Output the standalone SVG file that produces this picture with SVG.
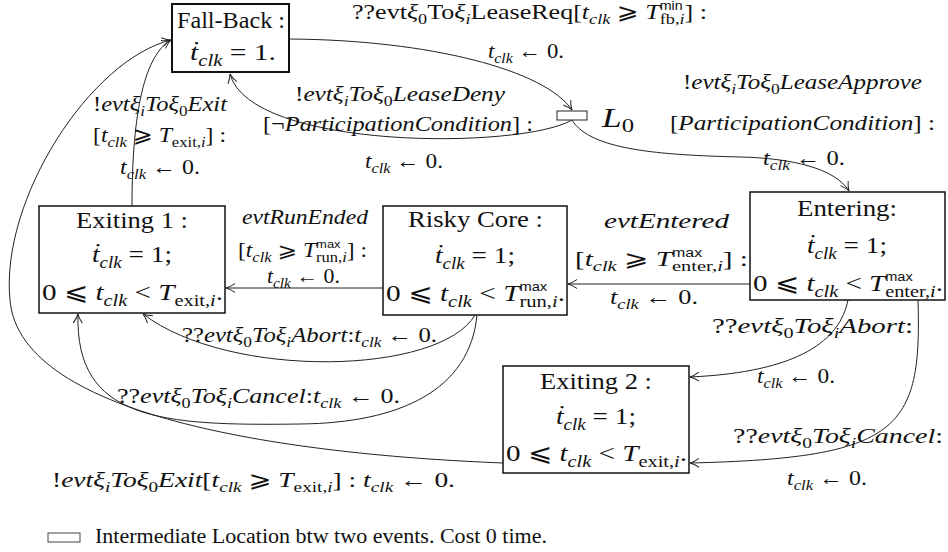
<svg xmlns="http://www.w3.org/2000/svg" width="948" height="552" viewBox="0 0 948 552">
<defs>
<style>
text{font-family:"Liberation Serif","DejaVu Serif","DejaVu Sans",serif;fill:#111}
.n{font-size:24px}
.l{font-size:22px}
.r{font-size:20px}
.i{font-style:italic}
.s{font-size:70%}
.ss{font-family:"Liberation Sans","DejaVu Sans",sans-serif;font-size:12px;font-style:normal}
.box{fill:#fff;stroke:#111;stroke-width:1.5}
.edge{fill:none;stroke:#222;stroke-width:1}
.lg{font-size:20px}
</style>
<marker id="arr" markerUnits="userSpaceOnUse" markerWidth="14" markerHeight="14" refX="11" refY="7" orient="auto"><path d="M2,2.5 Q7,6 11,7 Q7,8 2,11.5" fill="none" stroke="#222" stroke-width="1"/></marker>
</defs>

<g id="connectors">
  <!-- Fall-Back to L0 (lease request) -->
  <path class="edge" d="M289,39 C430,40 545,70 572,110" marker-end="url(#arr)"/>
  <!-- L0 back to Fall-Back (lease deny) -->
  <path class="edge" d="M572,120 C520,150 250,150 230,74" marker-end="url(#arr)"/>
  <!-- L0 to Entering (lease approve) -->
  <path class="edge" d="M572,120 C590,150 660,155 740,157 C790,158 835,168 849,191" marker-end="url(#arr)"/>
  <!-- Entering to Risky Core -->
  <path class="edge" d="M750,284 L568,284" marker-end="url(#arr)"/>
  <!-- Risky Core to Exiting 1 -->
  <path class="edge" d="M383,288 L226,288" marker-end="url(#arr)"/>
  <!-- Exiting 1 to Fall-Back -->
  <path class="edge" d="M132,206 C132,110 145,55 171,40" marker-end="url(#arr)"/>
  <!-- Exiting 2 to Fall-Back -->
  <path class="edge" d="M503,463 C300,455 20,420 10,300 C0,200 90,60 171,40" marker-end="url(#arr)"/>
  <!-- Risky Core to Exiting 1 (abort) -->
  <path class="edge" d="M475,315 C440,375 230,380 143,314" marker-end="url(#arr)"/>
  <!-- Risky Core to Exiting 1 (cancel) -->
  <path class="edge" d="M477,315 C470,390 400,423 300,424 C160,426 75,420 78,314" marker-end="url(#arr)"/>
  <!-- Entering to Exiting 2 (abort) -->
  <path class="edge" d="M848,300 C840,340 800,372 690,377" marker-end="url(#arr)"/>
  <!-- Entering to Exiting 2 (cancel) -->
  <path class="edge" d="M918,300 C922,430 900,458 690,463" marker-end="url(#arr)"/>
</g>

<g id="fall-back">
  <rect class="box" x="172" y="4" width="117" height="68" style="stroke-width:2"/>
  <text class="n" x="177" y="28" textLength="108" lengthAdjust="spacingAndGlyphs">Fall-Back :</text>
  <text class="n" x="190" y="60" textLength="86" lengthAdjust="spacingAndGlyphs"><tspan class="i">ṫ</tspan><tspan class="i s" dy="6">clk</tspan><tspan dy="-6"> = 1.</tspan></text>
</g>

<g id="l0">
  <rect x="557" y="111" width="30" height="9" fill="#fff" stroke="#222" stroke-width="1"/>
  <text x="602" y="127" style="font-size:28px" textLength="32" lengthAdjust="spacingAndGlyphs"><tspan class="i">L</tspan><tspan class="s" dy="5">0</tspan></text>
</g>

<g id="exiting-1">
  <rect class="box" x="39" y="206" width="186" height="107"/>
  <text class="n" x="76" y="228" textLength="112" lengthAdjust="spacingAndGlyphs">Exiting 1 :</text>
  <text class="n" x="92" y="262" textLength="80" lengthAdjust="spacingAndGlyphs"><tspan class="i">ṫ</tspan><tspan class="i s" dy="6">clk</tspan><tspan dy="-6"> = 1;</tspan></text>
  <text class="n" x="42" y="300" textLength="181" lengthAdjust="spacingAndGlyphs">0 ⩽ <tspan class="i">t</tspan><tspan class="i s" dy="6">clk</tspan><tspan dy="-6"> &lt; </tspan><tspan class="i">T</tspan><tspan class="s" dy="6">exit,<tspan class="i">i</tspan></tspan><tspan dy="-6">.</tspan></text>
</g>

<g id="risky-core">
  <rect class="box" x="383" y="206" width="184" height="109"/>
  <text class="n" x="408" y="227" textLength="135" lengthAdjust="spacingAndGlyphs">Risky Core :</text>
  <text class="n" x="435" y="263" textLength="80" lengthAdjust="spacingAndGlyphs"><tspan class="i">ṫ</tspan><tspan class="i s" dy="6">clk</tspan><tspan dy="-6"> = 1;</tspan></text>
  <text class="n" x="386" y="301" textLength="179" lengthAdjust="spacingAndGlyphs">0 ⩽ <tspan class="i">t</tspan><tspan class="i s" dy="6">clk</tspan><tspan dy="-6"> &lt; </tspan><tspan class="i">T</tspan><tspan class="ss" dy="-10">max</tspan><tspan class="s" dx="-22.7" dy="16">run,<tspan class="i">i</tspan></tspan><tspan dy="-6">.</tspan></text>
</g>

<g id="entering">
  <rect class="box" x="750" y="192" width="195" height="108"/>
  <text class="n" x="797" y="216" textLength="100" lengthAdjust="spacingAndGlyphs">Entering:</text>
  <text class="n" x="807" y="253" textLength="80" lengthAdjust="spacingAndGlyphs"><tspan class="i">ṫ</tspan><tspan class="i s" dy="6">clk</tspan><tspan dy="-6"> = 1;</tspan></text>
  <text class="n" x="753" y="291" textLength="190" lengthAdjust="spacingAndGlyphs">0 ⩽ <tspan class="i">t</tspan><tspan class="i s" dy="6">clk</tspan><tspan dy="-6"> &lt; </tspan><tspan class="i">T</tspan><tspan class="ss" dy="-10">max</tspan><tspan class="s" dx="-22.7" dy="16">enter,<tspan class="i">i</tspan></tspan><tspan dy="-6">.</tspan></text>
</g>

<g id="exiting-2">
  <rect class="box" x="503" y="366" width="186" height="107"/>
  <text class="n" x="540" y="389" textLength="112" lengthAdjust="spacingAndGlyphs">Exiting 2 :</text>
  <text class="n" x="556" y="424" textLength="80" lengthAdjust="spacingAndGlyphs"><tspan class="i">ṫ</tspan><tspan class="i s" dy="6">clk</tspan><tspan dy="-6"> = 1;</tspan></text>
  <text class="n" x="506" y="461" textLength="181" lengthAdjust="spacingAndGlyphs">0 ⩽ <tspan class="i">t</tspan><tspan class="i s" dy="6">clk</tspan><tspan dy="-6"> &lt; </tspan><tspan class="i">T</tspan><tspan class="s" dy="6">exit,<tspan class="i">i</tspan></tspan><tspan dy="-6">.</tspan></text>
</g>

<g id="labels">
  <!-- lease request -->
  <text class="l" x="352" y="19" textLength="355" lengthAdjust="spacingAndGlyphs">??evt<tspan class="i">ξ</tspan><tspan class="s" dy="5">0</tspan><tspan dy="-5">To</tspan><tspan class="i">ξ</tspan><tspan class="i s" dy="5">i</tspan><tspan dy="-5">LeaseReq[</tspan><tspan class="i">t</tspan><tspan class="i s" dy="5">clk</tspan><tspan dy="-5"> ⩾ </tspan><tspan class="i">T</tspan><tspan class="ss" dy="-9">min</tspan><tspan class="s" dx="-19.3" dy="14">fb,<tspan class="i">i</tspan></tspan><tspan dy="-5">] :</tspan></text>
  <text class="l" x="488" y="58" textLength="76" lengthAdjust="spacingAndGlyphs"><tspan class="i">t</tspan><tspan class="i s" dy="5">clk</tspan><tspan dy="-5"> ← 0.</tspan></text>

  <!-- lease deny -->
  <text class="l" x="295" y="101" textLength="210" lengthAdjust="spacingAndGlyphs">!<tspan class="i">evtξ</tspan><tspan class="i s" dy="5">i</tspan><tspan class="i" dy="-5">Toξ</tspan><tspan class="s" dy="5">0</tspan><tspan class="i" dy="-5">LeaseDeny</tspan></text>
  <text class="l" x="263" y="131" textLength="270" lengthAdjust="spacingAndGlyphs">[¬<tspan class="i">ParticipationCondition</tspan>] :</text>
  <text class="l" x="365" y="168" textLength="78" lengthAdjust="spacingAndGlyphs"><tspan class="i">t</tspan><tspan class="i s" dy="5">clk</tspan><tspan dy="-5"> ← 0.</tspan></text>

  <!-- exit from Exiting 1 -->
  <text class="l" x="93" y="111" textLength="134" lengthAdjust="spacingAndGlyphs">!<tspan class="i">evtξ</tspan><tspan class="i s" dy="5">i</tspan><tspan class="i" dy="-5">Toξ</tspan><tspan class="s" dy="5">0</tspan><tspan class="i" dy="-5">Exit</tspan></text>
  <text class="l" x="93" y="142" textLength="133" lengthAdjust="spacingAndGlyphs">[<tspan class="i">t</tspan><tspan class="i s" dy="5">clk</tspan><tspan dy="-5"> ⩾ </tspan><tspan class="i">T</tspan><tspan class="s" dy="5">exit,<tspan class="i">i</tspan></tspan><tspan dy="-5">] :</tspan></text>
  <text class="l" x="120" y="174" textLength="80" lengthAdjust="spacingAndGlyphs"><tspan class="i">t</tspan><tspan class="i s" dy="5">clk</tspan><tspan dy="-5"> ← 0.</tspan></text>

  <!-- lease approve -->
  <text class="l" x="683" y="89" textLength="239" lengthAdjust="spacingAndGlyphs">!<tspan class="i">evtξ</tspan><tspan class="i s" dy="5">i</tspan><tspan class="i" dy="-5">Toξ</tspan><tspan class="s" dy="5">0</tspan><tspan class="i" dy="-5">LeaseApprove</tspan></text>
  <text class="l" x="670" y="130" textLength="265" lengthAdjust="spacingAndGlyphs">[<tspan class="i">ParticipationCondition</tspan>] :</text>
  <text class="l" x="763" y="165" textLength="82" lengthAdjust="spacingAndGlyphs"><tspan class="i">t</tspan><tspan class="i s" dy="5">clk</tspan><tspan dy="-5"> ← 0.</tspan></text>

  <!-- run ended -->
  <text class="r" x="242" y="224" textLength="126" lengthAdjust="spacingAndGlyphs"><tspan class="i">evtRunEnded</tspan></text>
  <text class="r" x="238" y="257" textLength="129" lengthAdjust="spacingAndGlyphs">[<tspan class="i">t</tspan><tspan class="i s" dy="5">clk</tspan><tspan dy="-5"> ⩾ </tspan><tspan class="i">T</tspan><tspan class="ss" dy="-9" style="font-size:11px">max</tspan><tspan class="s" dx="-20.8" dy="14">run,<tspan class="i">i</tspan></tspan><tspan dy="-5">] :</tspan></text>
  <text class="r" x="267" y="283" textLength="73" lengthAdjust="spacingAndGlyphs"><tspan class="i">t</tspan><tspan class="i s" dy="5">clk</tspan><tspan dy="-5"> ← 0.</tspan></text>

  <!-- entered -->
  <text class="l" x="604" y="228" textLength="125" lengthAdjust="spacingAndGlyphs"><tspan class="i">evtEntered</tspan></text>
  <text class="l" x="575" y="266" textLength="173" lengthAdjust="spacingAndGlyphs">[<tspan class="i">t</tspan><tspan class="i s" dy="5">clk</tspan><tspan dy="-5"> ⩾ </tspan><tspan class="i">T</tspan><tspan class="ss" dy="-9">max</tspan><tspan class="s" dx="-22.7" dy="14">enter,<tspan class="i">i</tspan></tspan><tspan dy="-5">] :</tspan></text>
  <text class="l" x="610" y="304" textLength="88" lengthAdjust="spacingAndGlyphs"><tspan class="i">t</tspan><tspan class="i s" dy="5">clk</tspan><tspan dy="-5"> ← 0.</tspan></text>

  <!-- abort / cancel from Risky Core -->
  <text class="l" x="182" y="342" textLength="255" lengthAdjust="spacingAndGlyphs">??<tspan class="i">evtξ</tspan><tspan class="s" dy="5">0</tspan><tspan class="i" dy="-5">Toξ</tspan><tspan class="i s" dy="5">i</tspan><tspan class="i" dy="-5">Abort</tspan>:<tspan class="i">t</tspan><tspan class="i s" dy="5">clk</tspan><tspan dy="-5"> ← 0.</tspan></text>
  <text class="l" x="117" y="403" textLength="283" lengthAdjust="spacingAndGlyphs">??<tspan class="i">evtξ</tspan><tspan class="s" dy="5">0</tspan><tspan class="i" dy="-5">Toξ</tspan><tspan class="i s" dy="5">i</tspan><tspan class="i" dy="-5">Cancel</tspan>:<tspan class="i">t</tspan><tspan class="i s" dy="5">clk</tspan><tspan dy="-5"> ← 0.</tspan></text>

  <!-- abort / cancel from Entering -->
  <text class="l" x="712" y="333" textLength="201" lengthAdjust="spacingAndGlyphs">??<tspan class="i">evtξ</tspan><tspan class="s" dy="5">0</tspan><tspan class="i" dy="-5">Toξ</tspan><tspan class="i s" dy="5">i</tspan><tspan class="i" dy="-5">Abort</tspan>:</text>
  <text class="l" x="757" y="383" textLength="78" lengthAdjust="spacingAndGlyphs"><tspan class="i">t</tspan><tspan class="i s" dy="5">clk</tspan><tspan dy="-5"> ← 0.</tspan></text>
  <text class="l" x="733" y="443" textLength="210" lengthAdjust="spacingAndGlyphs">??<tspan class="i">evtξ</tspan><tspan class="s" dy="5">0</tspan><tspan class="i" dy="-5">Toξ</tspan><tspan class="i s" dy="5">i</tspan><tspan class="i" dy="-5">Cancel</tspan>:</text>
  <text class="l" x="787" y="485" textLength="80" lengthAdjust="spacingAndGlyphs"><tspan class="i">t</tspan><tspan class="i s" dy="5">clk</tspan><tspan dy="-5"> ← 0.</tspan></text>

  <!-- exit from Exiting 2 -->
  <text class="l" x="52" y="487" textLength="403" lengthAdjust="spacingAndGlyphs">!<tspan class="i">evtξ</tspan><tspan class="i s" dy="5">i</tspan><tspan class="i" dy="-5">Toξ</tspan><tspan class="s" dy="5">0</tspan><tspan class="i" dy="-5">Exit</tspan>[<tspan class="i">t</tspan><tspan class="i s" dy="5">clk</tspan><tspan dy="-5"> ⩾ </tspan><tspan class="i">T</tspan><tspan class="s" dy="5">exit,<tspan class="i">i</tspan></tspan><tspan dy="-5">] : </tspan><tspan class="i">t</tspan><tspan class="i s" dy="5">clk</tspan><tspan dy="-5"> ← 0.</tspan></text>
</g>

<g id="legend">
  <rect x="48" y="533" width="32" height="9" fill="#fff" stroke="#444" stroke-width="1"/>
  <text class="lg" x="95" y="543" textLength="452" lengthAdjust="spacingAndGlyphs">Intermediate Location btw two events. Cost 0 time.</text>
</g>
</svg>
